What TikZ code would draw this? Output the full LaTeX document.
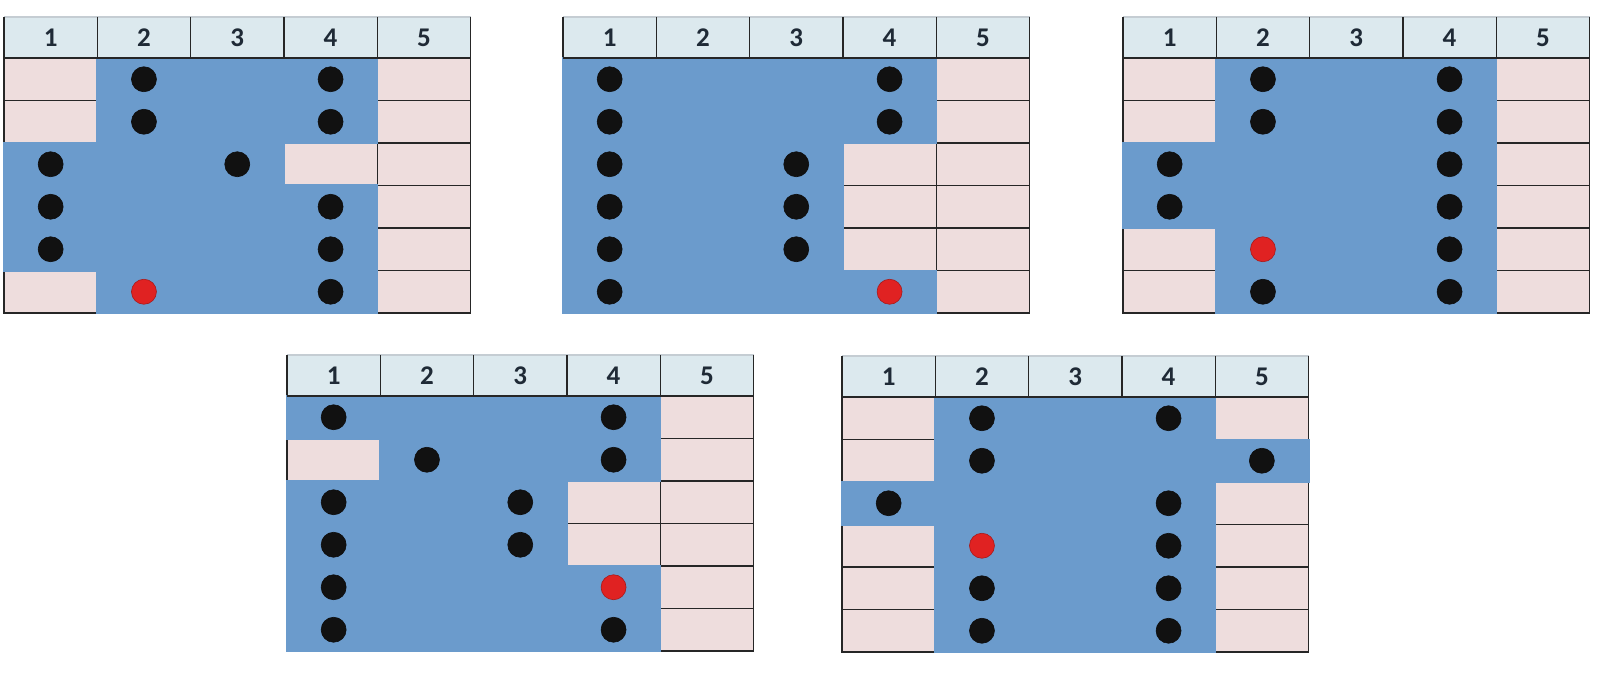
\documentclass[tikz,border=0pt]{standalone}
\usepackage{fontspec}
\setmainfont{Carlito}[BoldFont={Carlito Bold}]
\usepackage{tikz}
\definecolor{gridpink}{HTML}{EEDDDD}
\definecolor{gridblue}{HTML}{6B9BCC}
\definecolor{gridhead}{HTML}{DCE9EE}
\definecolor{gridline}{HTML}{262626}
\definecolor{gridtop}{HTML}{C5CDD3}
\definecolor{headtext}{HTML}{1F2A36}
\definecolor{dotred}{HTML}{E02222}
\definecolor{dotblack}{HTML}{111111}

\newcommand{\cw}{93.3}
\newcommand{\hh}{41}
\newcommand{\rh}{42.5}

% one panel: #1 name, #2 left, #3 top, #4 blue runs row/from/to, #5 dots row/col/colour
\newcommand{\gridpanel}[5]{%
  \begin{scope}[shift={(#2,#3)}]
    % header row
    \fill[gridhead] (0,0) rectangle ({5*\cw},\hh);
    \draw[gridtop, line width=1.2pt] (0,0) -- ({5*\cw},0);
    \foreach \col in {0,...,5}
      \draw[cellline] ({\col*\cw},0) -- ({\col*\cw},\hh);
    \foreach \col in {1,...,5}
      \node[headnum] (#1-h\col) at ({(\col-0.5)*\cw},{\hh/2}) {\col};
    % body cells, pink first
    \foreach \row in {1,...,6}
      \foreach \col in {1,...,5}
        \filldraw[pinkcell] ({(\col-1)*\cw},{\hh+(\row-1)*\rh}) rectangle ++(\cw,\rh);
    % blue region on top
    \foreach \row/\a/\b in {#4}
      \fill[gridblue] ({(\a-1)*\cw-1},{\hh+(\row-1)*\rh-1}) rectangle ({\b*\cw+1},{\hh+\row*\rh+1});
    \draw[cellline] (0,\hh) -- ({5*\cw},\hh);
    % dots
    \foreach \row/\col/\k [count=\i] in {#5}
      \node[dot, fill=\k, draw=\k!75!black] (#1-d\i) at ({(\col-0.5)*\cw},{\hh+(\row-0.5)*\rh}) {};
  \end{scope}}

\begin{document}
\begin{tikzpicture}[
    x=1pt, y=-1pt,
    cellline/.style={draw=gridline, line width=1.2pt},
    pinkcell/.style={fill=gridpink, draw=gridline, line width=1.2pt},
    headnum/.style={font=\bfseries\fontsize{27}{30}\selectfont, text=headtext, inner sep=0pt},
    dot/.style={circle, minimum size=25pt, inner sep=0pt, line width=0.6pt}
]
    \fill[white] (0,0) rectangle (1600,687);
    \useasboundingbox (0,0) rectangle (1600,687);

    % top row of panels
    \gridpanel{ga}{4}{17}{1/2/4,2/2/4,3/1/3,4/1/4,5/1/4,6/2/4}
      {1/2/dotblack,1/4/dotblack,2/2/dotblack,2/4/dotblack,3/1/dotblack,3/3/dotblack,
       4/1/dotblack,4/4/dotblack,5/1/dotblack,5/4/dotblack,6/2/dotred,6/4/dotblack}
    \gridpanel{gb}{563}{17}{1/1/4,2/1/4,3/1/3,4/1/3,5/1/3,6/1/4}
      {1/1/dotblack,1/4/dotblack,2/1/dotblack,2/4/dotblack,3/1/dotblack,3/3/dotblack,
       4/1/dotblack,4/3/dotblack,5/1/dotblack,5/3/dotblack,6/1/dotblack,6/4/dotred}
    \gridpanel{gc}{1123}{17}{1/2/4,2/2/4,3/1/4,4/1/4,5/2/4,6/2/4}
      {1/2/dotblack,1/4/dotblack,2/2/dotblack,2/4/dotblack,3/1/dotblack,3/4/dotblack,
       4/1/dotblack,4/4/dotblack,5/2/dotred,5/4/dotblack,6/2/dotblack,6/4/dotblack}

    % bottom row of panels
    \gridpanel{gd}{287}{355}{1/1/4,2/2/4,3/1/3,4/1/3,5/1/4,6/1/4}
      {1/1/dotblack,1/4/dotblack,2/2/dotblack,2/4/dotblack,3/1/dotblack,3/3/dotblack,
       4/1/dotblack,4/3/dotblack,5/1/dotblack,5/4/dotred,6/1/dotblack,6/4/dotblack}
    \gridpanel{ge}{842}{356}{1/2/4,2/2/5,3/1/4,4/2/4,5/2/4,6/2/4}
      {1/2/dotblack,1/4/dotblack,2/2/dotblack,2/5/dotblack,3/1/dotblack,3/4/dotblack,
       4/2/dotred,4/4/dotblack,5/2/dotblack,5/4/dotblack,6/2/dotblack,6/4/dotblack}
\end{tikzpicture}
\end{document}
